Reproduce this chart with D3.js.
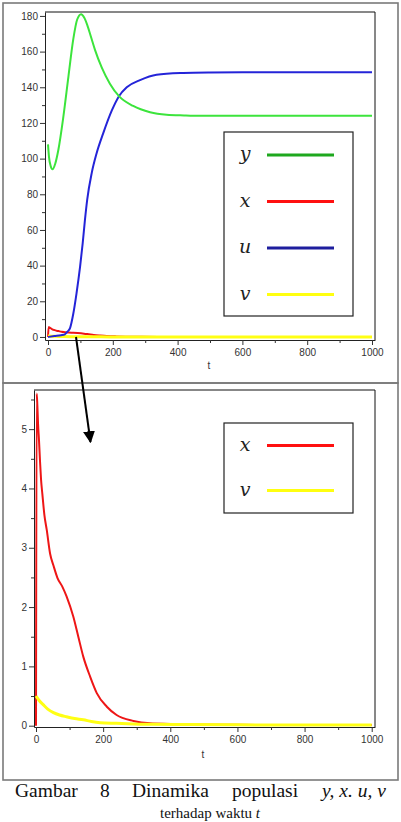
<!DOCTYPE html>
<html><head><meta charset="utf-8">
<script src="https://cdn.jsdelivr.net/npm/d3@7"></script>
<style>body{margin:0;background:#fff}svg{display:block}</style>
</head><body>
<svg id="c" width="401" height="822"></svg>
<script>
// ---- data ----
const yT = [0,3,8,14,22,32,47,63,78,90,102,112,121,133,145,166,191,219,263,315,366,420,469,550,700,850,1000];
const yV = [108,101,96,94,97,105,123,146,167,178,181,179,175,168,161,151,142,135,129.5,126,124.6,124.2,124,124,124,124,124];
const uT = [0,20,40,52,60,68,78,88,99,107,114,121,135,150,170,197,219,243,284,335,417,500,600,800,1000];
const uV = [0,0.5,1,1.5,3,5,13,24.5,39.4,52.5,65.6,77,92,103,114,127,135,140,144,147,148,148.3,148.4,148.4,148.4];
const xT = [0,2,4,6,9,12,15,19,25,32,42,52,64,78,91,111,126,141,161,181,211,240,290,340,400,460,600,800,1000];
const xV = [0,5.6,5.4,5.1,4.8,4.45,4.15,3.9,3.55,3.3,2.9,2.7,2.49,2.35,2.18,1.84,1.5,1.16,0.83,0.55,0.32,0.18,0.08,0.04,0.03,0.02,0.015,0.01,0.01];
const vT = [0,10,22,35,52,70,91,115,141,165,191,240,290,350,460,600,800,1000];
const vV = [0.5,0.42,0.35,0.28,0.22,0.18,0.15,0.12,0.10,0.07,0.05,0.04,0.03,0.025,0.02,0.015,0.01,0.01];
const tTicks = [0,200,400,600,800,1000];
const tMinor = [100,300,500,700,900];
const topTicks = [0,20,40,60,80,100,120,140,160,180];
const topMinor = [10,30,50,70,90,110,130,150,170];
const botTicks = [0,1,2,3,4,5];
const botMinor = [0.5,1.5,2.5,3.5,4.5,5.5];
const legendTop = ["y","x","u","v"];
const legendBot = ["x","v"];
const colors = {y:"#3ce43c", x:"#ee1616", u:"#2424d8", v:"#ffff14"};
const legColors = {y:"#1ea81e", x:"#ff1010", u:"#1e1e9e", v:"#ffff10"};

const svg = d3.select("#c");
const zip = (T,V)=>T.map((t,i)=>[t,V[i]]);
const fmt = d3.format("d");

function panel(o){
  const g = svg.append("g");
  g.append("rect").attr("x",o.bx).attr("y",o.by).attr("width",o.bw).attr("height",o.bh)
    .attr("fill","none").attr("stroke","#7a7a7a").attr("stroke-width",1.6);
  const x = d3.scaleLinear().domain(o.xd).range([o.l,o.r]);
  const y = d3.scaleLinear().domain(o.yd).range([o.b,o.t]);
  const id = "clip"+o.name;
  svg.append("clipPath").attr("id",id).append("rect").attr("x",o.l).attr("y",o.t-2).attr("width",o.r-o.l).attr("height",o.b-o.t+2);
  const line = d3.line().x(d=>x(d[0])).y(d=>y(d[1])).curve(d3.curveMonotoneX);
  const lg = g.append("g").attr("clip-path",`url(#${id})`);
  o.series.forEach(s=>{
    lg.append("path").attr("d",line(s.d)).attr("fill","none").attr("stroke",colors[s.k])
      .attr("stroke-width",s.w).attr("stroke-linejoin","round");
  });
  g.append("path").attr("d",`M${o.l},${o.t}H${o.r}V${o.b}`).attr("fill","none").attr("stroke","#111").attr("stroke-width",1);
  g.append("g").attr("transform",`translate(0,${o.b})`)
    .call(d3.axisBottom(x).tickValues(tTicks).tickFormat(fmt).tickSize(5).tickSizeOuter(0).tickPadding(4));
  g.append("g").attr("transform",`translate(0,${o.b})`)
    .call(d3.axisBottom(x).tickValues(tMinor).tickSize(3).tickSizeOuter(0).tickFormat(""))
    .select(".domain").remove();
  g.append("g").attr("transform",`translate(${o.l},0)`)
    .call(d3.axisLeft(y).tickValues(o.yt).tickFormat(fmt).tickSize(5).tickSizeOuter(0).tickPadding(2));
  g.append("g").attr("transform",`translate(${o.l},0)`)
    .call(d3.axisLeft(y).tickValues(o.ym).tickSize(3).tickSizeOuter(0).tickFormat(""))
    .select(".domain").remove();
  g.selectAll(".tick text").attr("font-family","Liberation Sans, Arial, sans-serif").attr("font-size",10).attr("fill","#333");
  g.selectAll(".tick line").attr("stroke","#333");
  g.selectAll(".domain").attr("stroke","#222");
  g.append("text").attr("x",o.tx).attr("y",o.ty).text("t").attr("text-anchor","middle")
    .attr("font-family","Liberation Sans, Arial, sans-serif").attr("font-size",10).attr("fill","#333");
  const L = o.leg;
  g.append("rect").attr("x",L.x).attr("y",L.y).attr("width",L.w).attr("height",L.h)
    .attr("fill","#fff").attr("stroke","#222").attr("stroke-width",1.2);
  o.legKeys.forEach((k,i)=>{
    const cy = L.y0 + i*L.dy;
    g.append("text").attr("x",245).attr("y",cy+5).text(k).attr("text-anchor","middle")
      .attr("font-family","DejaVu Serif, serif").attr("font-style","italic").attr("font-size",19).attr("fill","#222");
    g.append("line").attr("x1",267).attr("x2",334).attr("y1",cy).attr("y2",cy)
      .attr("stroke",legColors[k]).attr("stroke-width",3.2);
  });
}

panel({name:"a", bx:3,by:3,bw:395,bh:380, l:45,r:375,t:12,b:340,
  xd:[-9.3,1009.3], yd:[-1.7,182.2], yt:topTicks, ym:topMinor, tx:209, ty:369,
  series:[{k:"x",d:zip(xT,xV),w:2},{k:"v",d:zip(vT,vV),w:3},{k:"u",d:zip(uT,uV),w:2},{k:"y",d:zip(yT,yV),w:2}],
  leg:{x:224,y:132,w:129,h:184,y0:155,dy:46.5}, legKeys:legendTop});

panel({name:"b", bx:3,by:383,bw:395,bh:397, l:34,r:375,t:390,b:727,
  xd:[-6,1009.8], yd:[-0.022,5.66], yt:botTicks, ym:botMinor, tx:203, ty:758,
  series:[{k:"x",d:zip(xT,xV),w:2},{k:"v",d:zip(vT,vV),w:3}],
  leg:{x:224,y:423,w:129,h:90,y0:445.5,dy:45}, legKeys:legendBot});

svg.append("defs").append("marker").attr("id","ah").attr("viewBox","0 0 10 10").attr("refX",9).attr("refY",5)
  .attr("markerWidth",6).attr("markerHeight",6).attr("orient","auto").attr("markerUnits","strokeWidth")
  .append("path").attr("d","M0,0L10,5L0,10Z").attr("fill","#000");
svg.append("line").attr("x1",76).attr("y1",337).attr("x2",90.5).attr("y2",442)
  .attr("stroke","#000").attr("stroke-width",2).attr("marker-end","url(#ah)");

const cap = svg.append("g").attr("font-family","Liberation Serif, Times New Roman, serif").attr("font-size",19.5).attr("fill","#111");
[["Gambar",15,false],["8",100,false],["Dinamika",132,false],["populasi",232,false],["y, x. u, v",322,true]].forEach(w=>{
  cap.append("text").attr("x",w[1]).attr("y",797).text(w[0]).attr("font-style",w[2]?"italic":"normal");
});
const l2 = cap.append("text").attr("x",210).attr("y",818).attr("font-size",15).attr("text-anchor","middle");
l2.append("tspan").text("terhadap waktu ");
l2.append("tspan").attr("font-style","italic").text("t");
</script>
</body></html>
